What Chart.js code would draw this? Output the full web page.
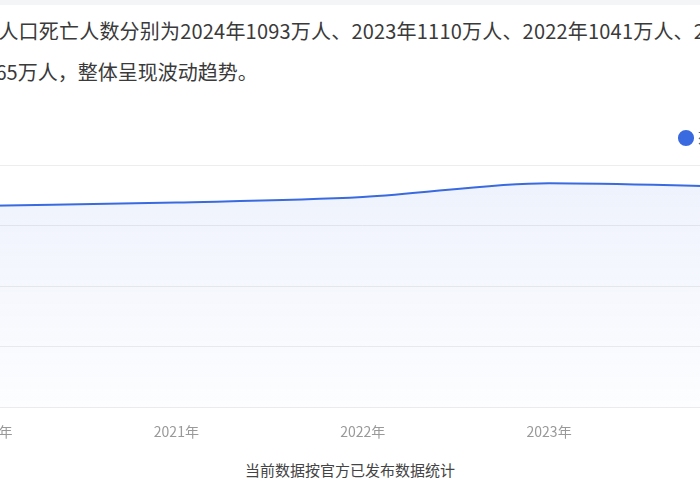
<!DOCTYPE html>
<html>
<head>
<meta charset="utf-8">
<script src="https://cdn.jsdelivr.net/npm/chart.js@4.4.0/dist/chart.umd.min.js"></script>
<style>
  html, body { margin: 0; padding: 0; background: #fff; overflow: hidden; width: 700px; height: 500px; }
  body { position: relative; font-family: "Noto Sans CJK SC", "Noto Sans", sans-serif; }
  .topbar { position: absolute; left: 0; top: 0; width: 700px; height: 5px; background: #f4f5f7; }
  .desc { position: absolute; white-space: nowrap; font-size: 20px; color: #3a3a3a; line-height: 24px; }
  .foot { position: absolute; left: 0; width: 700px; top: 459px; text-align: center; font-size: 15px; color: #444; }
  #wrap { position: absolute; left: -90px; top: 121px; width: 864px; height: 335px; }
</style>
</head>
<body>
<div class="topbar"></div>
<div class="desc" style="left:-42px; top:19px; letter-spacing:0.2px;">全国人口死亡人数分别为2024年1093万人、2023年1110万人、2022年1041万人、2021年1014万人、</div>
<div class="desc" style="left:-80px; top:60px;">2020年965万人，整体呈现波动趋势。</div>
<div id="wrap"><canvas id="deathChart"></canvas></div>
<div class="foot">当前数据按官方已发布数据统计</div>
<script>
// data
const years = ['2020年', '2021年', '2022年', '2023年', '2024年'];
const deaths = [998, 1014, 1041, 1110, 1093];
const yTicks = [0, 300, 600, 900, 1200];

const lineColor = '#3a6ae0';

const data = {
  labels: years,
  datasets: [{
    label: '死亡人数',
    data: deaths,
    borderColor: lineColor,
    borderWidth: 2,
    pointRadius: 0,
    pointHoverRadius: 0,
    cubicInterpolationMode: 'monotone',
    fill: true,
    backgroundColor: function(context) {
      const chart = context.chart;
      const area = chart.chartArea;
      if (!area) return 'rgba(58,106,224,0.06)';
      const g = chart.ctx.createLinearGradient(0, area.top, 0, area.bottom);
      g.addColorStop(0, 'rgba(58,106,224,0.09)');
      g.addColorStop(1, 'rgba(58,106,224,0.01)');
      return g;
    }
  }]
};

// push the plot a bit further below the legend
const legendGap = {
  id: 'legendGap',
  beforeInit(chart) {
    const fit = chart.legend.fit;
    chart.legend.fit = function() {
      fit.bind(chart.legend)();
      this.height += 10;
    };
  }
};

const config = {
  type: 'line',
  data: data,
  options: {
    responsive: true,
    maintainAspectRatio: false,
    animation: false,
    layout: { padding: { right: 10, top: 0 } },
    plugins: {
      legend: {
        position: 'top',
        align: 'end',
        labels: {
          usePointStyle: true,
          pointStyle: 'circle',
          boxWidth: 10,
          boxHeight: 10,
          color: '#666',
          font: { size: 14, family: '"Noto Sans CJK SC", sans-serif' },
          generateLabels: function(chart) {
            const items = Chart.defaults.plugins.legend.labels.generateLabels(chart);
            items.forEach(function(it) { it.fillStyle = lineColor; it.strokeStyle = lineColor; });
            return items;
          }
        }
      },
      tooltip: { enabled: false }
    },
    scales: {
      x: {
        grid: { display: false, drawTicks: false },
        border: { display: true, color: '#ebebeb' },
        ticks: {
          color: '#999',
          padding: 16,
          font: { size: 14, family: '"Noto Sans CJK SC", sans-serif' }
        }
      },
      y: {
        min: 0,
        max: 1200,
        afterFit: function(scale) { scale.width = 80; },
        afterBuildTicks: function(scale) {
          scale.ticks = yTicks.map(function(v) { return { value: v }; });
        },
        grid: { color: '#ededed', drawTicks: false },
        border: { display: false },
        ticks: {
          color: '#999',
          padding: 10,
          font: { size: 14, family: '"Noto Sans CJK SC", sans-serif' }
        }
      }
    }
  },
  plugins: [legendGap]
};

const deathChart = new Chart(document.getElementById('deathChart'), config);
</script>
</body>
</html>
